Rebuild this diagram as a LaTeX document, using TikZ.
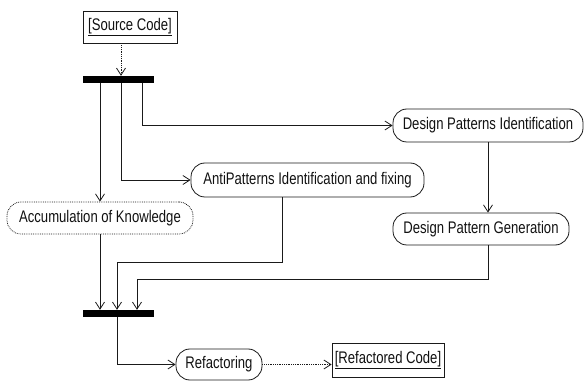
\documentclass[tikz,border=0pt]{standalone}
\usepackage{fontspec}
\setmainfont{Liberation Sans}[FakeStretch=0.78]
\usepackage{xcolor}
\usepackage{tikz}
\usetikzlibrary{positioning,arrows.meta,calc}
\definecolor{LineDark}{HTML}{1A1A1A}
\definecolor{TextDark}{HTML}{111111}

\begin{document}
\begin{tikzpicture}[x=1pt,y=1pt,
    every node/.style={font=\fontsize{16.8}{19}\selectfont, text=TextDark},
    activity/.style={draw=LineDark, line width=0.8pt, rounded corners=14pt, minimum height=33pt, inner sep=0pt},
    objbox/.style={draw=LineDark, line width=0.8pt, minimum height=32pt, inner sep=0pt},
    syncbar/.style={fill=black, draw=none, minimum width=71pt, minimum height=7pt, inner sep=0pt},
    flow/.style={draw=LineDark, line width=0.8pt, -{Straight Barb[length=7pt,width=9pt]}},
    objflow/.style={flow, densely dotted}]
  \useasboundingbox (0,0) rectangle (584,-382);
  % objects and activities
  \node[objbox, minimum width=94pt] (src) at (130,-27) {\underline{[Source Code]}};
  \node[syncbar] (fork) at (118.5,-79.5) {};
  \node[activity, minimum width=190pt] (dpi) at (488,-125.5) {Design Patterns Identification};
  \node[activity, minimum width=233pt, minimum height=34pt] (anti) at (307.5,-180) {AntiPatterns Identification and fixing};
  \node[activity, densely dotted, minimum width=186pt, minimum height=32pt] (acc) at (100,-218) {Accumulation of Knowledge};
  \node[activity, minimum width=176pt, minimum height=32pt] (dpg) at (481,-229) {Design Pattern Generation};
  \node[syncbar] (join) at (118.5,-313.5) {};
  \node[activity, minimum width=86pt, minimum height=31pt] (refac) at (219,-364.5) {Refactoring};
  \node[objbox, minimum width=112pt, minimum height=34pt] (refcode) at (388,-360) {\underline{[Refactored Code]}};
  % fork
  \coordinate (forkmid) at ([xshift=2.5pt]fork.north);
  \draw[objflow] (src.south -| forkmid) -- (forkmid);
  \draw[flow] (fork.south -| acc.north) -- (acc.north);
  \draw[flow] ([xshift=2.5pt]fork.south) |- (anti.west);
  \draw[flow] ([xshift=23.5pt]fork.south) |- (dpi.west);
  \draw[flow] (dpi.south) -- (dpi.south |- dpg.north);
  % join
  \draw[flow] (acc.south) -- (acc.south |- join.north);
  \draw[flow] ([xshift=-25.5pt]anti.south) -- ++(0,-65) -| ([xshift=-1.5pt]join.north);
  \draw[flow] (dpi.south |- dpg.south) -- ++(0,-34) -| ([xshift=18.5pt]join.north);
  \draw[flow] ([xshift=-1.5pt]join.south) |- (refac.west);
  \draw[objflow] (refac.east) -- (refac.east -| refcode.west);
\end{tikzpicture}
\end{document}
